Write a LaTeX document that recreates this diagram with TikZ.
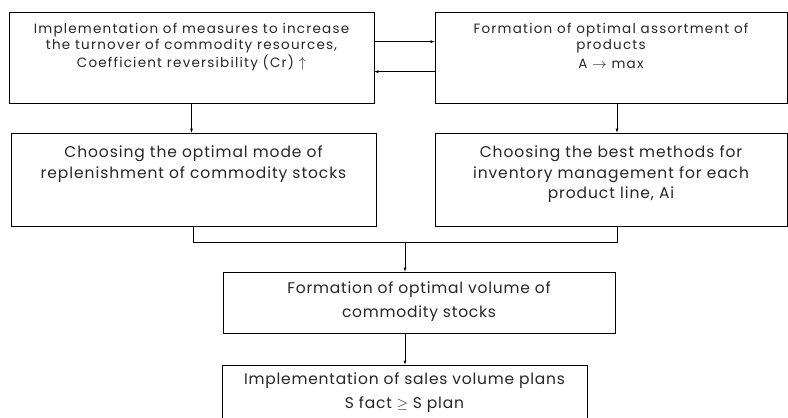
\documentclass[tikz,border=0pt]{standalone}
\usepackage{fontspec}
\setmainfont{Poppins}
\usetikzlibrary{positioning}
\usetikzlibrary{arrows}

\begin{document}
\begin{tikzpicture}[x=1pt,y=-1pt,>=latex,
  box/.style={draw,line width=0.7pt,inner sep=0pt},
  txt/.style={align=center,inner sep=0pt,text=black!85},
  small/.style={font=\fontsize{13.5}{16.5}\selectfont\addfontfeature{LetterSpace=9}},
  big/.style={font=\fontsize{15.5}{20.5}\selectfont\addfontfeature{LetterSpace=6}},
  bigger/.style={font=\fontsize{15.5}{23.5}\selectfont\addfontfeature{LetterSpace=5}}]
       \useasboundingbox (0,0) rectangle (788,418);
       \node[box,minimum width=365pt,minimum height=91pt] (measures) at (191.5,57.5) {};
       \node[box,minimum width=352pt,minimum height=91pt] (assortment) at (611,57.5) {};
       \node[box,minimum width=365pt,minimum height=93pt] (replenish) at (193.5,179.5) {};
       \node[box,minimum width=352pt,minimum height=93pt] (methods) at (611,179.5) {};
       \node[box,minimum width=392pt,minimum height=61pt] (volume) at (419,302.5) {};
       \node[box,minimum width=365pt,minimum height=80pt] (sales) at (404.5,405) {};
       \node[txt,small,below=11pt of measures.north] (measurestext)
         {Implementation of measures to increase\\the turnover of commodity resources,\\[1.5pt]Coefficient reversibility (Cr) $\uparrow$};
       \node[txt,small,below=11pt of assortment.north] (assortmenttext)
         {Formation of optimal assortment of\\products\\[2pt]A $\rightarrow$ max};
       \node[txt,big,below=13pt of replenish.north] (replenishtext)
         {Choosing the optimal mode of\\replenishment of commodity stocks};
       \node[txt,big,below=13pt of methods.north] (methodstext)
         {Choosing the best methods for\\inventory management for each\\product line, Ai};
       \node[txt,bigger,below=10pt of volume.north] (volumetext)
         {Formation of optimal volume of\\commodity stocks};
       \node[txt,bigger,below=8pt of sales.north] (salestext)
         {Implementation of sales volume plans\\S fact $\geq$ S plan};
       \coordinate (merge) at (405,242);
       \draw[->] ([yshift=-30pt]measures.north east) -- ([yshift=-30pt]assortment.north west);
       \draw[->] ([yshift=-60pt]assortment.north west) -- ([yshift=-60pt]measures.north east);
       \draw[->] (measures.south) -- (measures.south |- replenish.north);
       \draw[->] ([xshift=6pt]assortment.south) -- ([xshift=6pt]assortment.south |- methods.north);
       \draw (replenish.south) |- (merge);
       \draw ([xshift=6pt]methods.south) |- (merge);
       \draw[->] (merge) -- (merge |- volume.north);
       \draw[->] (merge |- volume.south) -- (merge |- sales.north);
     \end{tikzpicture}
\end{document}
